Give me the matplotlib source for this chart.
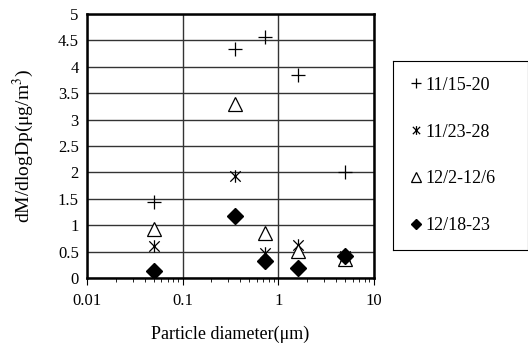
import matplotlib
matplotlib.use("Agg")
import matplotlib.pyplot as plt
from matplotlib.path import Path
import numpy as np

plt.rcParams['font.family'] = ['Liberation Serif', 'DejaVu Serif']
plt.rcParams['mathtext.fontset'] = 'stix'

diameters = [0.05, 0.35, 0.72, 1.6, 5.0]
series_labels = ['11/15-20', '11/23-28', '12/2-12/6', '12/18-23']
s_1115 = [1.44, 4.33, 4.56, 3.84, 2.01]
s_1123 = [0.60, 1.93, 0.47, 0.62, 0.42]
s_1202 = [0.92, 3.29, 0.85, 0.52, 0.36]
s_1218 = [0.14, 1.17, 0.32, 0.19, 0.41]

# asterisk marker: an "x" with a vertical stroke
ast = Path([(-1, -1), (1, 1), (-1, 1), (1, -1), (0, -1.2), (0, 1.2)],
           [Path.MOVETO, Path.LINETO, Path.MOVETO, Path.LINETO, Path.MOVETO, Path.LINETO])

fig = plt.figure(figsize=(5.28, 3.44), dpi=100)
ax = fig.add_axes([0.165, 0.192, 0.543, 0.767])

styles = [
    dict(marker='+', markersize=10, color='black', markeredgewidth=0.9),
    dict(marker=ast, markersize=9, color='black', markerfacecolor='none', markeredgewidth=0.9),
    dict(marker='^', markersize=10, color='black', markerfacecolor='white', markeredgewidth=0.9),
    dict(marker='D', markersize=8, color='black'),
]
for vals, lab, st in zip([s_1115, s_1123, s_1202, s_1218], series_labels, styles):
    ax.plot(diameters, vals, linestyle='none', label=lab, zorder=3, **st)

ax.set_xscale('log')
ax.set_xlim(0.01, 10)
ax.set_ylim(0, 5)
ax.set_yticks(np.arange(0, 5.01, 0.5))
ax.set_yticklabels(['0', '0.5', '1', '1.5', '2', '2.5', '3', '3.5', '4', '4.5', '5'])
ax.set_xticks([0.01, 0.1, 1, 10])
ax.set_xticklabels(['0.01', '0.1', '1', '10'])
ax.grid(True, which='major', color='#333333', linewidth=1.0)
ax.tick_params(axis='y', length=0, labelsize=12, pad=6)
ax.tick_params(axis='x', which='major', length=5, direction='out', labelsize=12, pad=6)
ax.tick_params(axis='x', which='minor', length=3, direction='out')
for sp in ax.spines.values():
    sp.set_linewidth(1.8)

ax.set_xlabel('Particle diameter(μm)', fontsize=13, labelpad=12)
ax.set_ylabel('dM/dlogDp(μg/m$^3$)', fontsize=14, labelpad=16)

leg_ax = fig.add_axes([0.744, 0.273, 0.256, 0.55])
leg_ax.set_xticks([]); leg_ax.set_yticks([])
for sp in leg_ax.spines.values():
    sp.set_linewidth(0.8)
leg_small = []
for st, lab in zip(styles, series_labels):
    s2 = dict(st)
    s2['markersize'] = st['markersize'] * 0.7
    leg_small.append(plt.Line2D([], [], linestyle='none', **s2))
leg_ax.legend(leg_small, series_labels, loc='center left', frameon=False,
              prop={'family': ['Liberation Serif', 'DejaVu Serif'], 'size': 13},
              labelspacing=1.65, handlelength=0.6, handletextpad=0.2,
              borderaxespad=0.6)

fig.savefig('out.png', dpi=100)
